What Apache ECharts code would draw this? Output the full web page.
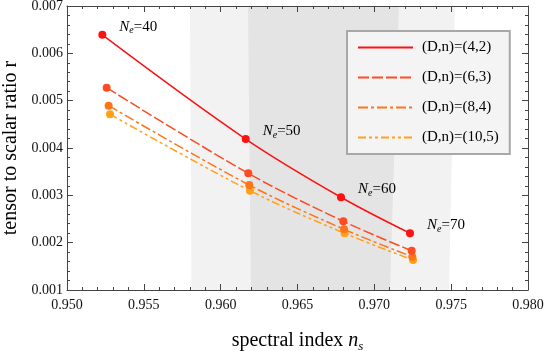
<!DOCTYPE html>
<html>
<head>
<meta charset="utf-8">
<script src="https://cdn.jsdelivr.net/npm/echarts@6/dist/echarts.min.js"></script>
<style>html,body{margin:0;padding:0;background:#fff;}#c{width:545px;height:351px;}</style>
</head>
<body>
<div id="c"></div>
<script>
// ---- data ----
var seriesNames = ['(D,n)=(4,2)', '(D,n)=(6,3)', '(D,n)=(8,4)', '(D,n)=(10,5)'];
var Ne = [40, 50, 60, 70];
var ns42 = [0.9523, 0.96163, 0.96783, 0.97232];
var r42  = [0.00639, 0.00419, 0.00296, 0.00220];
var ns63 = [0.95258, 0.9618, 0.96798, 0.97243];
var r63  = [0.005274, 0.003465, 0.002451, 0.00183];
var ns84 = [0.95271, 0.96186, 0.96803, 0.97247];
var r84  = [0.004894, 0.003218, 0.002282, 0.001703];
var ns105 = [0.9528, 0.96191, 0.96807, 0.97252];
var r105  = [0.004712, 0.003098, 0.002197, 0.001633];
// observational bands (ns, r) boundary corners
var bandOuter = [[0.9581, 0.001], [0.9580, 0.007], [0.97525, 0.007], [0.97486, 0.001]];
var bandInner = [[0.96197, 0.001], [0.96178, 0.007], [0.97160, 0.007], [0.97102, 0.001]];

var colors = ['#ff1111', '#ff4a22', '#ff7418', '#ffa018'];
var dashes = ['solid', [11, 3], [10, 3, 3, 3], [8, 3, 3, 3, 3, 3]];
var nsAll = [ns42, ns63, ns84, ns105];
var rAll = [r42, r63, r84, r105];
var serif = 'Liberation Serif';

function zip(a, b) { return a.map(function (v, i) { return [v, b[i]]; }); }

function bandSeries(pts, color) {
  return {
    type: 'custom', silent: true, z: 0, clip: true,
    xAxisIndex: 0, yAxisIndex: 0,
    data: [[pts[0][0], pts[0][1]]],
    renderItem: function (params, api) {
      return {
        type: 'polygon',
        shape: { points: pts.map(function (p) { return api.coord(p); }) },
        style: { fill: color }
      };
    }
  };
}

var series = [bandSeries(bandOuter, '#f2f2f2'), bandSeries(bandInner, '#e4e4e4')];
for (var i = 0; i < 4; i++) {
  var s = {
    name: seriesNames[i],
    type: 'line',
    xAxisIndex: 0, yAxisIndex: 0,
    smooth: 0.35,
    data: zip(nsAll[i], rAll[i]),
    symbol: 'circle', symbolSize: 8,
    itemStyle: { color: colors[i] },
    lineStyle: { color: colors[i], width: 1.5, type: dashes[i] },
    z: 5 + (4 - i)
  };
  if (i === 0) {
    s.label = {
      show: true, position: 'right', distance: 13, offset: [0, -8], color: '#000',
      formatter: function (p) { return '{n|N}{e|e}{t|=' + Ne[p.dataIndex] + '}'; },
      rich: {
        n: { fontFamily: serif, fontStyle: 'italic', fontSize: 15, color: '#000', lineHeight: 18, verticalAlign: 'middle' },
        e: { fontFamily: serif, fontStyle: 'italic', fontSize: 10, color: '#000', verticalAlign: 'bottom', lineHeight: 18 },
        t: { fontFamily: serif, fontSize: 15, color: '#000', lineHeight: 18, verticalAlign: 'middle' }
      }
    };
  }
  series.push(s);
}

var frame = { show: true, lineStyle: { color: '#444', width: 1 } };
var tick = { show: true, inside: true, length: 6, lineStyle: { color: '#444' } };
var minor = { show: true, splitNumber: 5, length: 3, lineStyle: { color: '#444' } };

var option = {
  animation: false,
  backgroundColor: '#fff',
  grid: { left: 67, right: 17, top: 6, bottom: 61, containLabel: false, outerBoundsMode: 'none' },
  legend: {
    data: seriesNames,
    orient: 'vertical', left: 347, top: 31,
    itemWidth: 55, itemHeight: 14, itemGap: 15,
    padding: [9, 11, 9, 10],
    backgroundColor: '#f4f4f4', borderColor: '#a8a8a8', borderWidth: 2,
    itemStyle: { opacity: 0 },
    textStyle: { fontFamily: serif, fontSize: 15, color: '#000', padding: [0, 0, 0, 4] }
  },
  xAxis: [{
    type: 'value', min: 0.95, max: 0.98, interval: 0.005, position: 'bottom',
    axisLine: frame, axisTick: tick, minorTick: minor, splitLine: { show: false },
    axisLabel: { fontFamily: serif, fontSize: 14, color: '#111', margin: 8, formatter: function (v) { return v.toFixed(3); } },
    name: '{a|spectral index }{b|n}{c|s}', nameLocation: 'middle', nameGap: 39,
    nameTextStyle: {
      rich: {
        a: { fontFamily: serif, fontSize: 20, color: '#000', lineHeight: 24, verticalAlign: 'middle' },
        b: { fontFamily: serif, fontSize: 20, fontStyle: 'italic', color: '#000', lineHeight: 24, verticalAlign: 'middle' },
        c: { fontFamily: serif, fontSize: 13, fontStyle: 'italic', color: '#000', lineHeight: 24, verticalAlign: 'bottom' }
      }
    }
  }, {
    type: 'value', min: 0.95, max: 0.98, interval: 0.005, position: 'top',
    axisLine: frame, axisTick: tick, minorTick: minor, splitLine: { show: false },
    axisLabel: { show: false }
  }],
  yAxis: [{
    type: 'value', min: 0.001, max: 0.007, interval: 0.001, position: 'left',
    axisLine: frame, axisTick: tick, minorTick: minor, splitLine: { show: false },
    axisLabel: { fontFamily: serif, fontSize: 14, color: '#111', margin: 4, formatter: function (v) { return v.toFixed(3); } },
    name: 'tensor to scalar ratio r', nameLocation: 'middle', nameGap: 43, nameRotate: 90,
    nameTextStyle: { fontFamily: serif, fontSize: 20, color: '#000' }
  }, {
    type: 'value', min: 0.001, max: 0.007, interval: 0.001, position: 'right',
    axisLine: frame, axisTick: tick, minorTick: minor, splitLine: { show: false },
    axisLabel: { show: false }
  }],
  series: series
};

var chart = echarts.init(document.getElementById('c'), null, { renderer: 'canvas' });
chart.setOption(option);
</script>
</body>
</html>
